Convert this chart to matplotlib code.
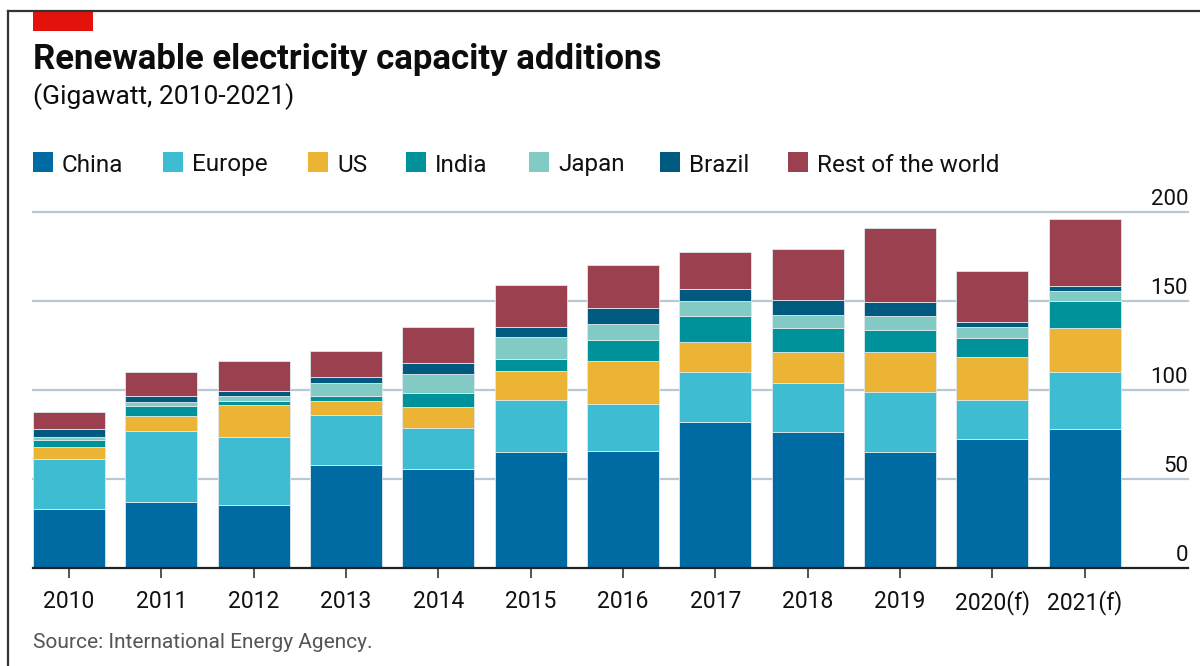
import numpy as np
import matplotlib.pyplot as plt
from matplotlib.patches import Rectangle
from matplotlib.lines import Line2D

plt.rcParams['font.family'] = ['Roboto', 'DejaVu Sans']

# data (gigawatt)
years = ['2010', '2011', '2012', '2013', '2014', '2015', '2016', '2017',
         '2018', '2019', '2020(f)', '2021(f)']
china = [33.0, 36.9, 35.6, 57.7, 55.6, 65.2, 65.7, 82.0, 76.6, 65.0, 72.5, 78.1]
europe = [28.2, 40.2, 38.0, 28.1, 22.9, 29.0, 26.6, 28.1, 27.3, 34.0, 22.1, 32.0]
us = [6.8, 8.5, 18.0, 8.0, 11.8, 16.6, 24.2, 16.9, 17.3, 22.2, 23.8, 24.7]
india = [3.9, 5.2, 2.2, 2.8, 7.8, 6.8, 11.6, 14.6, 13.6, 12.7, 10.8, 15.4]
japan = [1.9, 2.5, 2.8, 7.2, 10.7, 12.0, 9.1, 8.4, 7.3, 7.7, 6.4, 5.4]
brazil = [4.5, 3.5, 3.0, 3.7, 6.5, 6.0, 8.7, 6.7, 8.5, 8.0, 2.6, 3.0]
rest = [9.3, 13.3, 16.7, 14.6, 20.1, 23.2, 24.3, 20.8, 28.8, 41.4, 28.7, 37.6]

names = ['China', 'Europe', 'US', 'India', 'Japan', 'Brazil', 'Rest of the world']
series = [china, europe, us, india, japan, brazil, rest]
colors = ['#006BA2', '#3EBCD2', '#EBB434', '#00929B', '#82CAC4', '#005A80', '#9A404E']
yticks = [0, 50, 100, 150, 200]

W, H = 1200, 666
fig = plt.figure(figsize=(12, 6.66), dpi=100)


def fx(px):
    return px / W


def fy(py):
    return 1 - py / H


ax = fig.add_axes([fx(33), fy(568), fx(1188) - fx(33), fy(212) - fy(568)])

x = np.arange(len(years))
bottom = np.zeros(len(years))
for vals, col in zip(series, colors):
    ax.bar(x, vals, 0.78, bottom=bottom, color=col, edgecolor='#dfe8ec',
           linewidth=0.6, zorder=2)
    bottom += np.array(vals)

ax.set_xlim(-0.39, 12.12)
ax.set_ylim(0, 200)

# gridlines + labels sitting on top of them, right side
for v in yticks[1:]:
    ax.axhline(v, color='#b9c8d2', lw=1.6, zorder=1, clip_on=False)
for v in yticks:
    ax.annotate(str(v), xy=(1, v), xycoords=('axes fraction', 'data'),
                xytext=(0, 5), textcoords='offset points',
                ha='right', va='baseline', fontsize=16, color='#111111')
ax.set_yticks([])

for s in ['top', 'right', 'left']:
    ax.spines[s].set_visible(False)
ax.spines['bottom'].set_color('#222222')
ax.spines['bottom'].set_linewidth(1.6)

ax.set_xticks(x, years)
ax.tick_params(axis='x', length=7, width=1.3, color='#444444', pad=9,
               labelsize=16.5, labelcolor='#111111')

# header
fig.add_artist(Line2D([fx(8), 1], [fy(10.5), fy(10.5)], transform=fig.transFigure,
                      color='#333333', lw=1.6))
fig.add_artist(Line2D([fx(8), fx(8)], [fy(10.5), 0], transform=fig.transFigure,
                      color='#333333', lw=1.6))
fig.add_artist(Rectangle((fx(33), fy(31)), fx(93) - fx(33), fy(12) - fy(31),
                         transform=fig.transFigure, color='#E3120B', lw=0))

fig.text(fx(33), fy(69), 'Renewable electricity capacity additions',
         fontsize=25, fontweight='bold', va='baseline', color='#0d0d0d')
fig.text(fx(33), fy(104), '(Gigawatt, 2010-2021)', fontsize=19,
         va='baseline', color='#0d0d0d')

# legend
sq_x = [33, 163, 308, 406, 529, 660, 788]
for sx, name, col in zip(sq_x, names, colors):
    fig.add_artist(Rectangle((fx(sx), fy(172)), fx(sx + 20) - fx(sx), fy(152) - fy(172),
                             transform=fig.transFigure, color=col, lw=0))
    fig.text(fx(sx + 29), fy(171.5), name, fontsize=17.5, va='baseline',
             color='#111111')

fig.text(fx(33), fy(648), 'Source: International Energy Agency.', fontsize=15,
         va='baseline', color='#555555')

fig.savefig('out.png', dpi=100)
